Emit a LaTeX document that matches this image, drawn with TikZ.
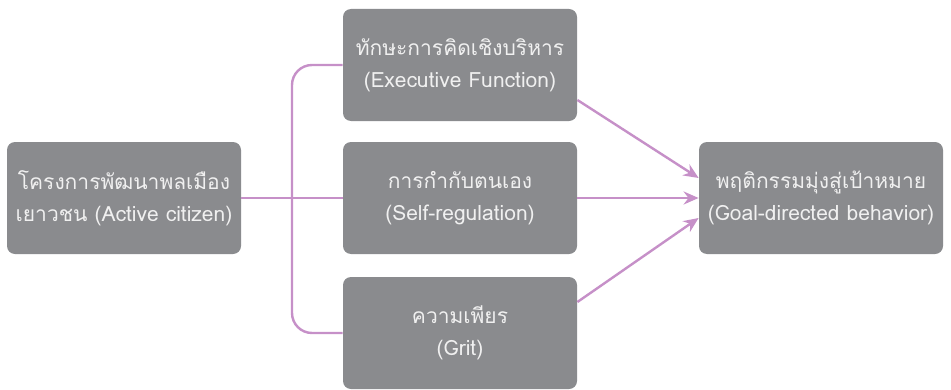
\documentclass[tikz,border=0pt]{standalone}
\usepackage{fontspec}
\setmainfont[Script=Thai]{Loma}
\usetikzlibrary{arrows.meta}

\definecolor{boxgray}{HTML}{8A8B8E}
\definecolor{linkpurple}{HTML}{C690C8}

\tikzset{
    block/.style={fill=boxgray, rounded corners=4pt, text=white!94!black,
        align=center, minimum width=117pt, minimum height=56pt, inner sep=2pt,
        font=\fontsize{10.5}{16}\selectfont},
    link/.style={draw=linkpurple, line width=1.2pt},
    arr/.style={link, -{Stealth[length=7.5pt, width=6.5pt]}}
}

\begin{document}
\begin{tikzpicture}[x=0.5pt, y=-0.5pt]
    \useasboundingbox (0,0) rectangle (951,390);

    % -- i riquadri --
    \node[block] (project) at (124,198) {โครงการพัฒนาพลเมือง\\เยาวชน (Active citizen)};
    \node[block] (exec) at (460,65) {ทักษะการคิดเชิงบริหาร\\(Executive Function)};
    \node[block] (selfreg) at (460,198) {การกำกับตนเอง\\(Self-regulation)};
    \node[block] (grit) at (460,333) {ความเพียร\\(Grit)};
    \node[block, minimum width=122pt] (goal) at (821,198) {พฤติกรรมมุ่งสู่เป้าหมาย\\(Goal-directed behavior)};

    % -- la parentesi a sinistra --
    \coordinate (spine) at (292,198);
    \draw[link] (project) -- (selfreg);
    \draw[link, rounded corners=10pt] (exec.west) -| (spine) |- (grit.west);

    % -- le frecce verso destra --
    \draw[arr] ([yshift=-17.5pt]exec.east) -- ([yshift=10pt]goal.west);
    \draw[arr] (selfreg) -- (goal);
    \draw[arr] ([yshift=15.5pt]grit.east) -- ([yshift=-10pt]goal.west);
\end{tikzpicture}
\end{document}
